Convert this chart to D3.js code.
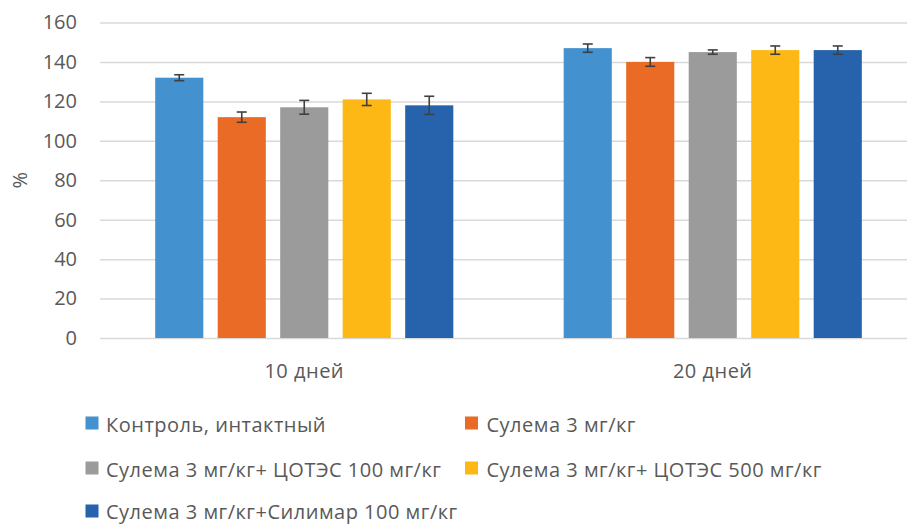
<!DOCTYPE html>
<html>
<head>
<meta charset="utf-8">
<script src="https://cdn.jsdelivr.net/npm/d3@7"></script>
<style>
  body { margin: 0; background: #fff; }
  svg { display: block; }
  text { font-family: "Open Sans", "DejaVu Sans", sans-serif; fill: #595959; }
</style>
</head>
<body>
<svg id="chart" width="907" height="524"></svg>
<script>
const categories = ["10 дней", "20 дней"];
const seriesNames = [
  "Контроль, интактный",
  "Сулема 3 мг/кг",
  "Сулема 3 мг/кг+ ЦОТЭС 100 мг/кг",
  "Сулема 3 мг/кг+ ЦОТЭС 500 мг/кг",
  "Сулема 3 мг/кг+Силимар 100 мг/кг"
];
const colors = ["#4391CE", "#E96B26", "#9B9B9B", "#FDB815", "#2763AD"];
// values per series: [10 дней, 20 дней]
const values = [
  [132, 147],
  [112, 140],
  [117, 145],
  [121, 146],
  [118, 146]
];
const errors = [
  [1.5, 2.1],
  [2.6, 2.2],
  [3.5, 1.1],
  [3.1, 2.1],
  [4.6, 2.1]
];
const yTicks = [0, 20, 40, 60, 80, 100, 120, 140, 160];

const svg = d3.select("#chart");
const mLeft = 100, mRight = 917, mTop = 22.5, mBottom = 338;

const x0 = d3.scaleBand().domain(categories).range([mLeft, mRight]).paddingInner(0).paddingOuter(0);
const x1 = d3.scaleBand().domain(d3.range(seriesNames.length)).range([0, x0.bandwidth()])
  .paddingInner(0.23).paddingOuter(0.883);
const y = d3.scaleLinear().domain([0, 160]).range([mBottom, mTop]);

// gridlines
const yAxis = d3.axisLeft(y).tickValues(yTicks).tickSize(-(907 - mLeft)).tickPadding(23);
const gy = svg.append("g").attr("transform", `translate(${mLeft},0)`).call(yAxis);
gy.select(".domain").remove();
gy.selectAll(".tick line").attr("stroke", "#D9D9D9").attr("stroke-width", 1.5);
gy.selectAll(".tick text").style("font-size", "20px").attr("fill", "#595959");

// bars
const groups = svg.append("g").selectAll("g").data(categories).join("g")
  .attr("transform", d => `translate(${x0(d)},0)`);

groups.each(function(cat, ci) {
  const g = d3.select(this);
  seriesNames.forEach((s, si) => {
    const v = values[si][ci];
    g.append("rect")
      .attr("x", x1(si)).attr("width", x1.bandwidth())
      .attr("y", y(v)).attr("height", y(0) - y(v))
      .attr("fill", colors[si]);
    const e = errors[si][ci];
    const cx = x1(si) + x1.bandwidth() / 2;
    const eg = g.append("g").attr("stroke", "#404040").attr("stroke-width", 1.6).attr("fill", "none");
    eg.append("line").attr("x1", cx).attr("x2", cx).attr("y1", y(v + e)).attr("y2", y(v - e));
    eg.append("line").attr("x1", cx - 5).attr("x2", cx + 5).attr("y1", y(v + e)).attr("y2", y(v + e));
    eg.append("line").attr("x1", cx - 5).attr("x2", cx + 5).attr("y1", y(v - e)).attr("y2", y(v - e));
  });
});

// x axis labels
const xAxis = d3.axisBottom(x0).tickSize(0).tickPadding(26);
const gx = svg.append("g").attr("transform", `translate(0,${mBottom})`).call(xAxis);
gx.select(".domain").remove();
gx.selectAll(".tick text").style("font-size", "20px").style("letter-spacing", "0.5px").attr("fill", "#595959");

// y title
svg.append("text").attr("transform", `translate(27,${(mTop + mBottom) / 2}) rotate(-90)`)
  .attr("text-anchor", "middle").style("font-size", "20px").text("%");

// legend
const legendPos = [[85.5, 423], [465, 423], [85.5, 468], [465, 468], [85.5, 511]];
const lg = svg.append("g").selectAll("g").data(seriesNames).join("g")
  .attr("transform", (d, i) => `translate(${legendPos[i][0]},${legendPos[i][1]})`);
lg.append("rect").attr("x", 0).attr("y", -6.5).attr("width", 13).attr("height", 13)
  .attr("fill", (d, i) => colors[i]);
lg.append("text").attr("x", (d, i) => i % 2 ? 21.5 : 20.5).attr("y", (d, i) => i === 4 ? 8 : 9)
  .style("font-size", "20px").style("letter-spacing", "0.5px").text(d => d);
</script>
</body>
</html>
